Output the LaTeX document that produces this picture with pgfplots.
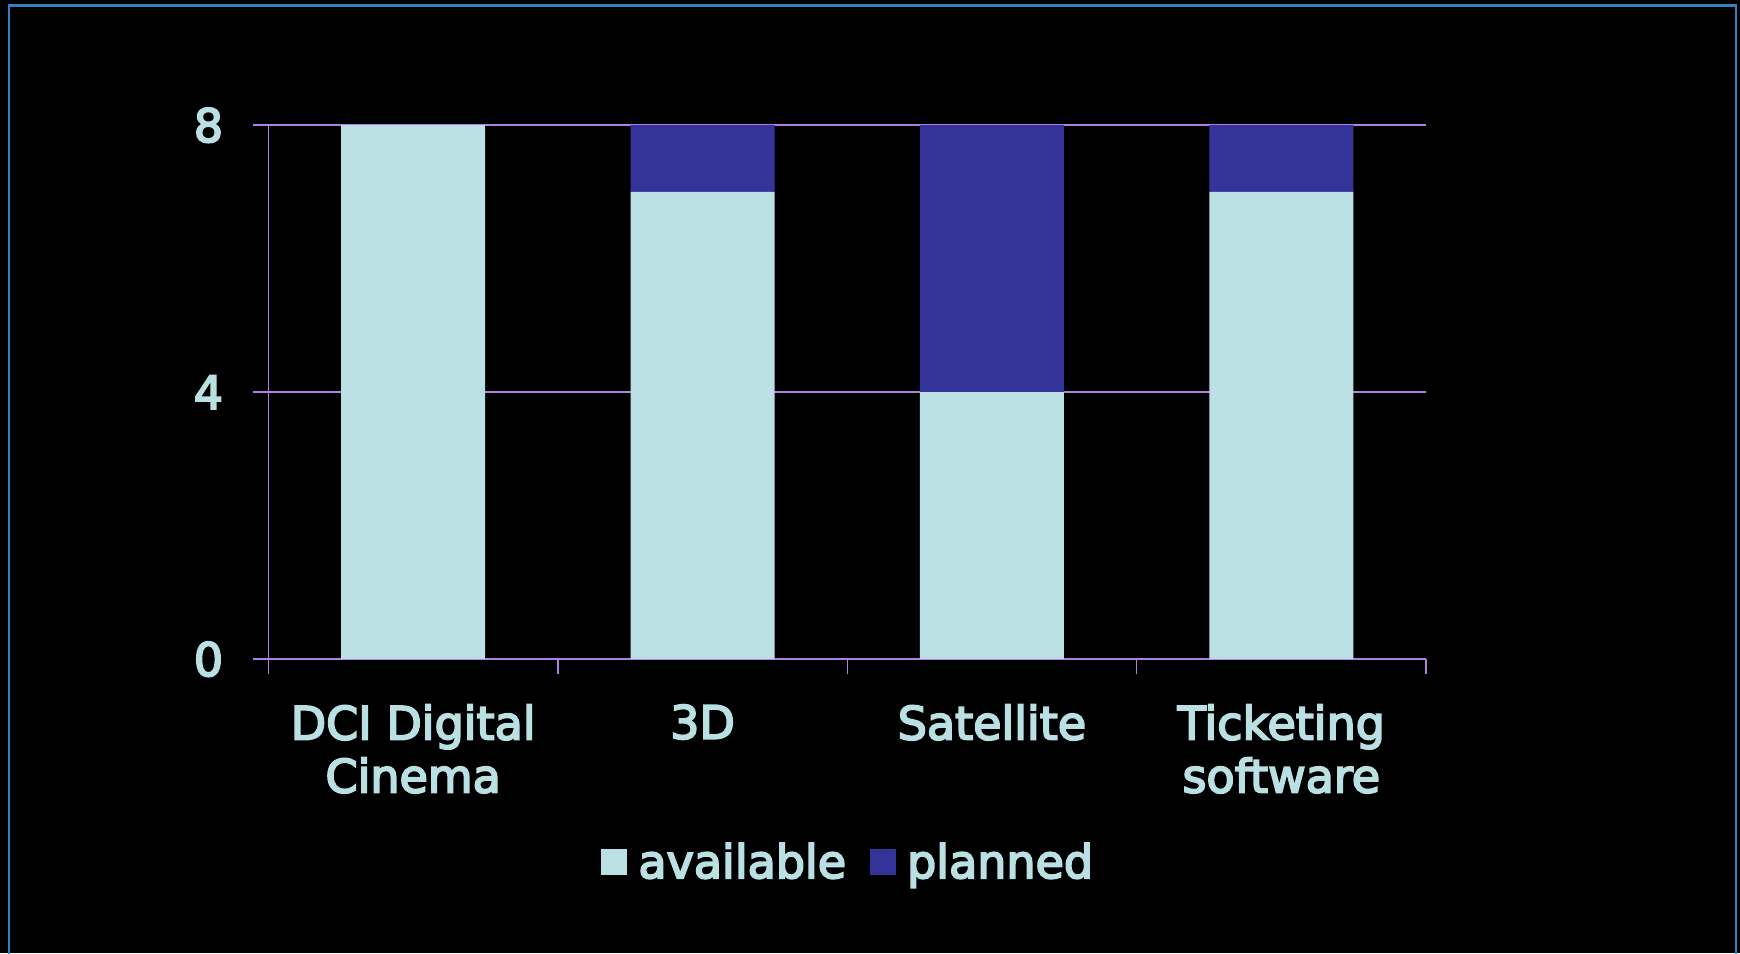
\documentclass[border=0pt]{standalone}
\usepackage{pgfplots}
\pgfplotsset{compat=1.18}
\usepackage{fontspec}
\setmainfont{DejaVu Sans}[RawFeature={embolden=4}]
\definecolor{avail}{HTML}{BBE0E3}
\definecolor{plan}{HTML}{333399}
\definecolor{txt}{HTML}{BBE0E3}
\definecolor{gridc}{HTML}{B07FE2}
\definecolor{bordc}{HTML}{3A7DC0}
\begin{document}
\begin{tikzpicture}
\fill[black] (0,0) rectangle (870pt,476.5pt);
\draw[bordc, line width=1.25pt] (4.5pt,-2pt) -- (4.5pt,473.75pt) -- (868pt,473.75pt) -- (868pt,-2pt);
\begin{axis}[
  at={(134.25pt,146.9pt)}, anchor=south west,
  scale only axis, width=578.75pt, height=267pt,
  ybar stacked, bar width=72pt,
  xmin=-0.5, xmax=3.5, ymin=0, ymax=8,
  xtick={0,1,2,3},
  xticklabels={{DCI Digital\\Cinema},{3D},{Satellite},{Ticketing\\software}},
  ytick={0,4,8},
  axis x line=bottom, axis y line=left,
  axis line style={gridc, line width=0.75pt, -},
  ymajorgrids, major grid style={gridc, line width=0.75pt},
  tick align=outside,
  major tick length=8pt,
  ytick style={gridc, line width=0.75pt},
  xtick style={draw=none},
  extra x ticks={-0.5,0.5,1.5,2.5,3.5},
  extra x tick labels={},
  extra x tick style={xtick style={draw=gridc, line width=0.75pt}, major tick length=7.5pt, grid=none},
  /pgf/number format/assume math mode=true,
  ticklabel style={font=\fontsize{23}{26.5}\selectfont, text=txt},
  xticklabel style={align=center, anchor=north, inner sep=0pt, yshift=-14.5pt},
  yticklabel style={anchor=east, inner sep=0pt, xshift=-14.5pt},
  legend columns=2,
  legend style={at={(0.5,-0.38)}, anchor=center, draw=none, fill=none, text=txt,
    font=\fontsize{23}{26.5}\selectfont, nodes={inner sep=0pt},
    /tikz/every odd column/.append style={column sep=5.5pt},
    /tikz/every even column/.append style={column sep=12pt}},
  legend image code/.code={\draw[#1,draw=none] (0pt,-6.5pt) rectangle (13pt,6.5pt);},
]
\addplot[fill=avail, draw=none] coordinates {(0,8) (1,7) (2,4) (3,7)};
\addplot[fill=plan, draw=none] coordinates {(0,0) (1,1) (2,4) (3,1)};
\legend{available, planned}
\end{axis}
\pgfresetboundingbox
\useasboundingbox (0,0) rectangle (870pt,476.5pt);
\end{tikzpicture}
\end{document}
